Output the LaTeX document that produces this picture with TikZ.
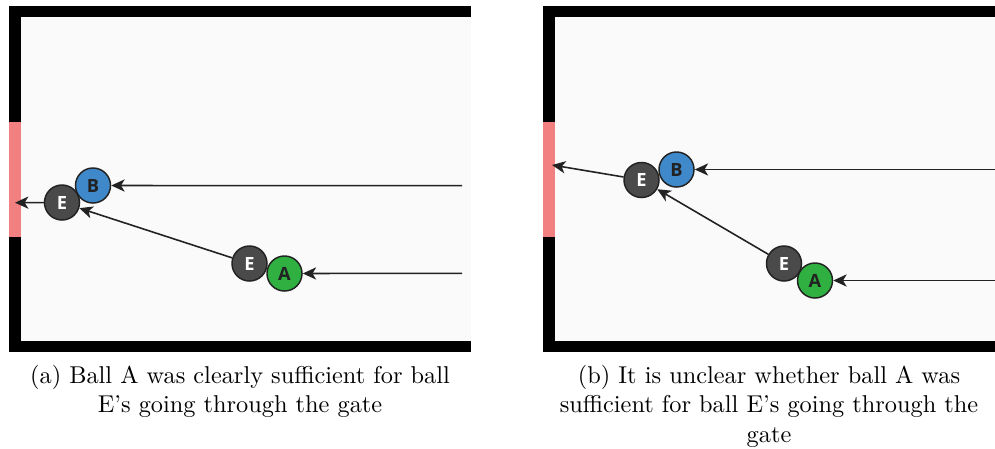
\documentclass[tikz,border=0pt]{standalone}
\usepackage{fontspec}
\newfontfamily\ballfont{Open Sans}
\usetikzlibrary{arrows.meta}
\definecolor{wallblack}{HTML}{000000}
\definecolor{floorgray}{HTML}{FAFAFA}
\definecolor{gatered}{HTML}{F28080}
\definecolor{ballgray}{HTML}{4A4A4A}
\definecolor{ballblue}{HTML}{3F88C9}
\definecolor{ballgreen}{HTML}{2FB041}
\definecolor{inkdark}{HTML}{222222}

\begin{document}
\begin{tikzpicture}[
  x=0.411pt, y=-0.411pt,
  ball/.style={circle, draw=inkdark, line width=0.6pt, minimum size=14.4pt, inner sep=0pt, font=\ballfont\bfseries\fontsize{7.5}{9}\selectfont},
  eball/.style={ball, fill=ballgray, text=white},
  bball/.style={ball, fill=ballblue, text=inkdark},
  aball/.style={ball, fill=ballgreen, text=inkdark},
  arrow/.style={-{Stealth[length=5.5pt, width=5pt, inset=1.5pt]}, line width=0.65pt, draw=inkdark},
  caption/.style={anchor=north, align=center, inner sep=0pt},
]
\useasboundingbox (0,0) rectangle (995,448);

% Panel (a): walls, floor and gate
\fill[wallblack] (9,6) rectangle (471,352);
\fill[floorgray] (20.5,17) rectangle (471,341);
\fill[gatered] (9,122) rectangle (20.5,237);

% Panel (b): walls, floor and gate
\fill[wallblack] (543,6) rectangle (995,352);
\fill[floorgray] (555,17) rectangle (995,341);
\fill[gatered] (543,122) rectangle (555,237);

% Panel (a) balls
\node[bball] (bA) at (93,185.5) {B};
\node[eball] (eA) at (62,202.5) {E};
\node[eball] (eAstart) at (249.5,263.5) {E};
\node[aball] (aA) at (284.5,273.5) {A};
\coordinate (bAin) at (462,185.7);
\coordinate (aAin) at (462,273.3);
\coordinate (gateA) at (15,202.7);

% Panel (b) balls
\node[bball] (bB) at (676.5,169.5) {B};
\node[eball] (eB) at (641.5,180) {E};
\node[eball] (eBstart) at (784,263.5) {E};
\node[aball] (aB) at (815,280.5) {A};
\coordinate (bBin) at (995,169.5);
\coordinate (aBin) at (995,280.5);
\coordinate (gateB) at (552,165);

% Paths
\draw[arrow] (bAin) -- (bA);
\draw[arrow] (aAin) -- (aA);
\draw[arrow] (eAstart) -- (eA);
\draw[arrow] (eA) -- (gateA);

\draw[arrow] (bBin) -- (bB);
\draw[arrow] (aBin) -- (aB);
\draw[arrow] (eBstart) -- (eB);
\draw[arrow] (eB) -- (gateB);

% Captions
\node[caption] (capA) at (240,365) {(a) Ball A was clearly sufficient for ball\\E's going through the gate};
\node[caption] (capB) at (769,365) {(b) It is unclear whether ball A was\\sufficient for ball E's going through the\\gate};

\end{tikzpicture}
\end{document}
